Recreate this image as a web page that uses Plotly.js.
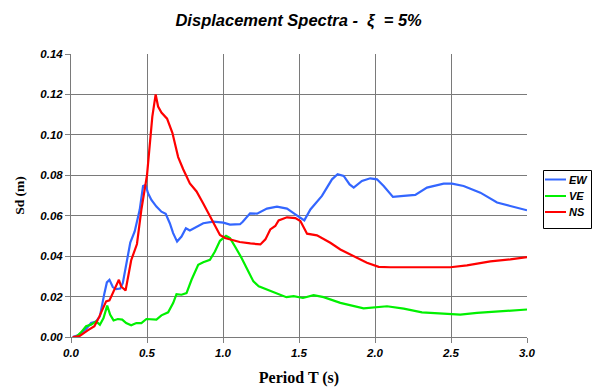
<!DOCTYPE html>
<html>
<head>
<meta charset="utf-8">
<script src="https://cdn.plot.ly/plotly-3.0.1.min.js"></script>
<style>html,body{margin:0;padding:0;background:#fff;}#chart{width:593px;height:390px;}</style>
</head>
<body>
<div id="chart"></div>
<script>
// Period T (s) and Sd (m) for each component
const ewT = [0.011,0.05,0.099,0.132,0.165,0.19,0.22,0.236,0.253,0.275,0.297,0.324,0.341,0.363,0.39,0.419,0.452,0.474,0.491,0.507,0.529,0.562,0.595,0.623,0.65,0.672,0.698,0.727,0.756,0.782,0.826,0.87,0.936,1.002,1.046,1.112,1.13,1.178,1.224,1.289,1.355,1.421,1.476,1.509,1.535,1.575,1.651,1.717,1.754,1.794,1.833,1.86,1.914,1.969,2.013,2.057,2.118,2.189,2.265,2.342,2.452,2.507,2.583,2.693,2.803,2.89,3.0];
const ewSd = [0,0.001,0.004,0.0069,0.0077,0.0102,0.0217,0.027,0.0283,0.0247,0.0237,0.024,0.0267,0.0357,0.0467,0.0522,0.0629,0.0747,0.0752,0.0711,0.0678,0.0645,0.062,0.0609,0.0563,0.0514,0.0472,0.0497,0.0538,0.0527,0.0543,0.0563,0.0571,0.0566,0.0556,0.0558,0.057,0.0612,0.061,0.0635,0.0645,0.0635,0.0607,0.059,0.0577,0.0631,0.0698,0.078,0.0805,0.0797,0.0755,0.0739,0.0772,0.0785,0.078,0.0747,0.0693,0.0698,0.0703,0.0739,0.0759,0.0759,0.0747,0.0714,0.0665,0.0648,0.0627];

const veT = [0.033,0.066,0.099,0.132,0.165,0.19,0.214,0.238,0.258,0.28,0.308,0.337,0.363,0.396,0.43,0.463,0.496,0.529,0.562,0.595,0.639,0.672,0.694,0.727,0.76,0.793,0.837,0.87,0.914,0.947,0.98,1.02,1.046,1.079,1.123,1.167,1.2,1.235,1.311,1.366,1.417,1.465,1.526,1.596,1.662,1.772,1.925,2.079,2.189,2.309,2.408,2.561,2.671,2.803,3.0];
const veSd = [0,0.0023,0.0053,0.0061,0.0077,0.0061,0.0094,0.0155,0.011,0.0082,0.0089,0.0086,0.0069,0.0058,0.0069,0.0069,0.0089,0.0089,0.0086,0.0107,0.0122,0.0168,0.0212,0.0209,0.0217,0.0283,0.0357,0.037,0.0382,0.0423,0.0476,0.05,0.0489,0.0448,0.039,0.0324,0.0275,0.0251,0.023,0.0215,0.0197,0.0202,0.0193,0.0207,0.0197,0.0169,0.0142,0.0152,0.014,0.0122,0.0119,0.0111,0.0119,0.0126,0.0136];

const nsT = [0.011,0.055,0.11,0.154,0.187,0.231,0.253,0.286,0.315,0.33,0.359,0.396,0.434,0.463,0.5,0.535,0.557,0.573,0.595,0.632,0.667,0.705,0.738,0.782,0.826,0.87,0.925,0.98,1.013,1.11,1.18,1.246,1.279,1.311,1.344,1.366,1.421,1.476,1.509,1.553,1.618,1.706,1.772,1.86,1.947,2.024,2.1,2.276,2.496,2.605,2.759,2.89,3.0];
const nsSd = [0,0.0004,0.0033,0.0053,0.0102,0.0176,0.0181,0.0234,0.0283,0.025,0.023,0.038,0.046,0.063,0.08,0.109,0.12,0.114,0.111,0.108,0.101,0.089,0.083,0.076,0.072,0.066,0.058,0.0505,0.049,0.047,0.0463,0.0458,0.0483,0.0532,0.0549,0.0577,0.0592,0.0588,0.0574,0.0511,0.0503,0.0466,0.0433,0.04,0.0367,0.0347,0.0345,0.0345,0.0345,0.0354,0.0374,0.0384,0.0395];

const seriesNames = ['EW', 'VE', 'NS'];
const seriesColors = ['#3366FF', '#00F000', '#FF0000'];

const xTicks = [0,0.5,1,1.5,2,2.5,3];
const xTickText = ['0.0','0.5','1.0','1.5','2.0','2.5','3.0'];
const yTicks = [0,0.02,0.04,0.06,0.08,0.10,0.12,0.14];
const yTickText = ['0.00','0.02','0.04','0.06','0.08','0.10','0.12','0.14'];

const W = 593, H = 390;
const M = {l: 71, r: 66, t: 54, b: 53};
const pw = W - M.l - M.r, ph = H - M.t - M.b;
const px = v => (v - M.l) / pw;          // pixel -> paper x
const py = v => (H - M.b - v) / ph;      // pixel -> paper y

const lineW = 2.2;
const xs = [ewT, veT, nsT], ys = [ewSd, veSd, nsSd];
const traces = seriesNames.map((n, i) => ({
  x: xs[i], y: ys[i], name: n, mode: 'lines', showlegend: false,
  line: {color: seriesColors[i], width: lineW}
}));

// hand-drawn legend box to match the compact reference legend
const shapes = [{
  type: 'rect', xref: 'paper', yref: 'paper',
  x0: px(543.5), x1: px(591.5), y0: py(228.5), y1: py(170.5),
  line: {color: '#000', width: 1}, fillcolor: '#fff', layer: 'above'
}];
const annotations = [];
const rowY = [179.5, 196, 212];
seriesNames.forEach((n, i) => {
  shapes.push({
    type: 'line', xref: 'paper', yref: 'paper',
    x0: px(545), x1: px(566), y0: py(rowY[i]), y1: py(rowY[i]),
    line: {color: seriesColors[i], width: 2}, layer: 'above'
  });
  annotations.push({
    xref: 'paper', yref: 'paper', x: px(567), y: py(rowY[i]),
    xanchor: 'left', yanchor: 'middle', showarrow: false,
    text: '<b><i>' + n + '</i></b>',
    font: {family: 'Liberation Sans, Arial, sans-serif', size: 11, color: '#000'}
  });
});

const tickFont = {family: 'Liberation Sans, Arial, sans-serif', size: 11.5, color: '#000'};
const layout = {
  width: W, height: H,
  margin: M,
  paper_bgcolor: '#fff', plot_bgcolor: '#fff',
  showlegend: false,
  shapes: shapes,
  annotations: annotations,
  title: {
    text: '<b><i>Displacement Spectra -  ξ  = 5%</i></b>',
    font: {family: 'Liberation Sans, Arial, sans-serif', size: 16.5, color: '#000'},
    x: (296 / W), xref: 'paper', xanchor: 'center',
    y: (H - 20) / H, yanchor: 'middle'
  },
  xaxis: {
    range: [0, 3], tickvals: xTicks, ticktext: xTickText.map(s => '<b><i>' + s + '</i></b>'),
    tickfont: tickFont, ticks: 'outside', ticklen: 5, tickcolor: '#808080',
    showgrid: true, gridcolor: '#7a7a7a', gridwidth: 1,
    showline: true, linecolor: '#7a7a7a', linewidth: 1, zeroline: false,
    title: {text: '<b>Period T (s)</b>', font: {family: 'Liberation Serif, Times New Roman, serif', size: 16, color: '#000'}, standoff: 14}
  },
  yaxis: {
    range: [0, 0.14], tickvals: yTicks, ticktext: yTickText.map(s => '<b><i>' + s + '</i></b>'),
    tickfont: tickFont, ticks: 'outside', ticklen: 5, tickcolor: '#808080',
    showgrid: true, gridcolor: '#7a7a7a', gridwidth: 1,
    showline: true, linecolor: '#7a7a7a', linewidth: 1, zeroline: false,
    title: {text: '<b>Sd (m)</b>', font: {family: 'Liberation Serif, Times New Roman, serif', size: 13.5, color: '#000'}, standoff: 12}
  }
};
Plotly.newPlot('chart', traces, layout, {displayModeBar: false, staticPlot: true});
</script>
</body>
</html>
